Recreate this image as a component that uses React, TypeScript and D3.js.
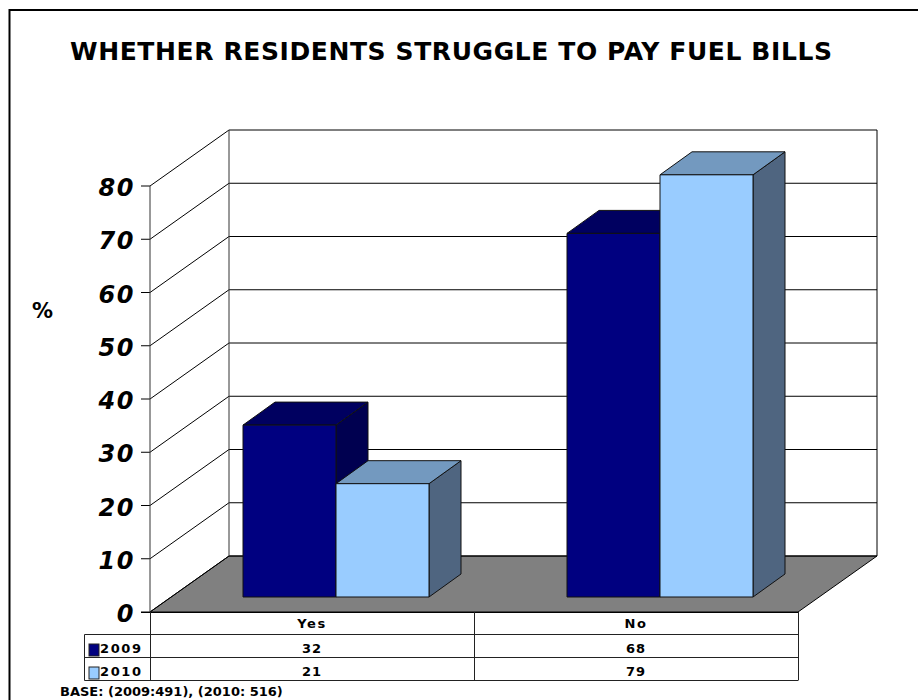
import React from 'react'
import * as d3 from 'd3'

const categories = ['Yes', 'No']
const seriesNames = ['2009', '2010']
const values2009 = [32, 68]
const values2010 = [21, 79]
const yTicks = [0, 10, 20, 30, 40, 50, 60, 70, 80]
const frontColors = ['#000080', '#99ccff']
const topColors = ['#000060', '#7399bf']
const sideColors = ['#000050', '#4f6580']

const width = 918
const height = 700
const font = "'DejaVu Sans', Verdana, sans-serif"

// plot box, front plane
const x0 = 150
const x1 = 798
const yBase = 612
const yTop = 186
// how far the back wall is pushed
const depthX = 79
const depthY = -56
// bar position inside the floor, and the bar depth
const barInset = 93
const barY = -15
const barLift = 1.5
const barDepthX = 32
const barDepthY = -23
const barW = 93

const xScale = d3.scaleBand<string>().domain(categories).range([x0, x1])
const yScale = d3.scaleLinear().domain([0, 80]).range([yBase, yTop])
const barH = (v: number) => yBase - yScale(v) + barLift

const series = [values2009, values2010]
const pts = (p: number[][]) => p.map((d) => d.join(',')).join(' ')

export default function App() {
  const rowLines = [634.5, 657.5, 680.5]
  return (
    <svg
      width={width}
      height={height}
      viewBox={`0 0 ${width} ${height}`}
      style={{ position: 'fixed', left: 0, top: 0, background: '#fff' }}
      fontFamily={font}
    >
      <path d={`M9.5,${height} V10 H${width}`} fill="none" stroke="#000" strokeWidth={2} />
      <text x={70} y={60} fontSize={25} fontWeight="bold" textLength={762} lengthAdjust="spacing">
        WHETHER RESIDENTS STRUGGLE TO PAY FUEL BILLS
      </text>
      <text x={32} y={318} fontSize={21} fontWeight="bold">%</text>

      {/* floor */}
      <polygon
        points={pts([
          [x0, yBase],
          [x0 + depthX, yBase + depthY],
          [x1 + depthX, yBase + depthY],
          [x1, yBase],
        ])}
        fill="#808080"
        stroke="#000"
      />

      {/* walls and gridlines */}
      {yTicks.map((t) => {
        const y = yScale(t)
        return (
          <g key={t} stroke="#000" strokeWidth={1}>
            <line x1={x0 - 9} x2={x0} y1={y} y2={y} />
            <line x1={x0} x2={x0 + depthX} y1={y} y2={y + depthY} />
            <line x1={x0 + depthX} x2={x1 + depthX} y1={y + depthY} y2={y + depthY} />
          </g>
        )
      })}
      <line x1={x0} x2={x0} y1={yTop} y2={yBase} stroke="#333" />
      <line x1={x0 + depthX} x2={x0 + depthX} y1={yTop + depthY} y2={yBase + depthY} stroke="#333" />
      <line x1={x1 + depthX} x2={x1 + depthX} y1={yTop + depthY} y2={yBase + depthY} stroke="#000" />

      {yTicks.map((t) => (
        <text
          key={t}
          x={135}
          y={yScale(t) + 10}
          textAnchor="end"
          fontSize={24}
          fontWeight="bold"
          fontStyle="italic"
          letterSpacing={1.5}
        >
          {t}
        </text>
      ))}

      {/* bars */}
      {categories.map((c, i) =>
        series.map((vals, s) => {
          const left = (xScale(c) as number) + barInset + s * barW
          const bottom = yBase + barY
          const top = bottom - barH(vals[i])
          const right = left + barW
          return (
            <g key={c + s} stroke="#111" strokeWidth={1} strokeLinejoin="round">
              <polygon
                points={pts([
                  [right, bottom],
                  [right + barDepthX, bottom + barDepthY],
                  [right + barDepthX, top + barDepthY],
                  [right, top],
                ])}
                fill={sideColors[s]}
              />
              <polygon
                points={pts([
                  [left, top],
                  [left + barDepthX, top + barDepthY],
                  [right + barDepthX, top + barDepthY],
                  [right, top],
                ])}
                fill={topColors[s]}
              />
              <rect x={left} y={top} width={barW} height={bottom - top} fill={frontColors[s]} />
            </g>
          )
        }),
      )}

      {/* data table */}
      <g stroke="#222" strokeWidth={1}>
        <line x1={x0 - 9} x2={x1} y1={yBase + 0.5} y2={yBase + 0.5} stroke="#000" />
        {rowLines.map((y) => (
          <line key={y} x1={84.5} x2={x1} y1={y} y2={y} />
        ))}
        <line x1={84.5} x2={84.5} y1={rowLines[0]} y2={rowLines[2]} />
        {[x0, x0 + xScale.bandwidth(), x1].map((x) => (
          <line key={x} x1={x + 0.5} x2={x + 0.5} y1={yBase} y2={rowLines[2]} />
        ))}
      </g>
      {categories.map((c) => (
        <text
          key={c}
          x={(xScale(c) as number) + xScale.bandwidth() / 2}
          y={628}
          textAnchor="middle"
          fontSize={13}
          fontWeight="bold"
          letterSpacing={1.5}
        >
          {c}
        </text>
      ))}
      {seriesNames.map((name, s) => {
        const y = s === 0 ? 653 : 676
        return (
          <g key={name}>
            <rect x={89} y={y - 9} width={10} height={12} fill={frontColors[s]} stroke="#222" />
            <text x={100} y={y} fontSize={13} fontWeight="bold" letterSpacing={1.6}>
              {name}
            </text>
            {categories.map((c, i) => (
              <text
                key={c}
                x={(xScale(c) as number) + xScale.bandwidth() / 2}
                y={y}
                textAnchor="middle"
                fontSize={13}
                fontWeight="bold"
                letterSpacing={1}
              >
                {series[s][i]}
              </text>
            ))}
          </g>
        )
      })}
      <text x={60} y={696} fontSize={13} fontWeight="bold">
        BASE: (2009:491), (2010: 516)
      </text>
    </svg>
  )
}
